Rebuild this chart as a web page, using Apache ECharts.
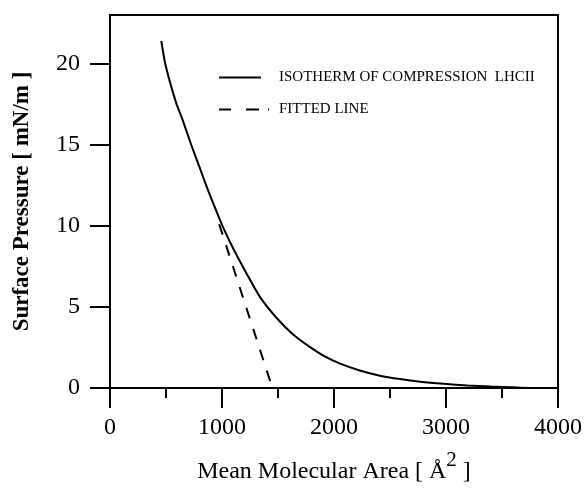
<!DOCTYPE html>
<html><head><meta charset="utf-8">
<script src="https://cdn.jsdelivr.net/npm/echarts@6/dist/echarts.min.js"></script>
<style>html,body{margin:0;padding:0;background:#fff}#c{width:587px;height:489px}</style>
</head><body><div id="c"></div>
<script>
var isothermArea = [458, 490, 530, 590, 650, 725, 800, 875, 950, 1010, 1100, 1220, 1340, 1490, 1635, 1780, 1905, 2055, 2230, 2410, 2590, 2770, 2980, 3190, 3400, 3600, 3740];
var isothermPressure = [21.4, 20.1, 19.0, 17.6, 16.5, 15.0, 13.6, 12.2, 10.9, 9.9, 8.6, 7.05, 5.6, 4.3, 3.3, 2.55, 2.0, 1.5, 1.08, 0.76, 0.55, 0.39, 0.26, 0.16, 0.09, 0.04, 0.0];
var fitArea = [975, 1450];
var fitPressure = [10.1, 0];
var xTicks = [0, 1000, 2000, 3000, 4000];
var yTicks = [0, 5, 10, 15, 20];
var seriesNames = ['ISOTHERM OF COMPRESSION  LHCII', 'FITTED LINE'];

var serif = 'Liberation Serif';
var chart = echarts.init(document.getElementById('c'), null, {renderer: 'canvas'});
var isoData = isothermArea.map(function (x, i) { return [x, isothermPressure[i]]; });
var fitData = fitArea.map(function (x, i) {
  var d = {value: [x, fitPressure[i]]};
  if (i === fitArea.length - 1) {
    d.label = {show: true, position: 'right', distance: 4, offset: [0, -15],
      formatter: function (p) { return String(p.value[0]); },
      fontFamily: serif, fontSize: 16, color: '#000'};
  }
  return d;
});

chart.setOption({
  animation: false,
  grid: {left: 110, right: 29, top: 15, bottom: 100, show: true, borderColor: '#000', borderWidth: 2},
  legend: {
    orient: 'vertical', left: 213, top: 65, itemWidth: 50, itemHeight: 14, itemGap: 17,
    textStyle: {fontFamily: serif, fontSize: 15, color: '#000', padding: [0, 0, 0, 5]},
    data: [
      {name: seriesNames[0], itemStyle: {opacity: 0}, lineStyle: {type: [42, 200], width: 2, color: '#000'}},
      {name: seriesNames[1], itemStyle: {opacity: 0}, lineStyle: {type: [12, 15, 13, 9, 2, 100], width: 2, color: '#000'}}
    ]
  },
  xAxis: {
    type: 'value', min: 0, max: 4000, interval: 1000,
    name: '{m|Mean Molecular Area [ Å}{s|2}{m| ]}', nameLocation: 'middle', nameGap: 62,
    nameTextStyle: {rich: {
      m: {fontFamily: serif, fontSize: 24, color: '#000', lineHeight: 34, verticalAlign: 'bottom'},
      s: {fontFamily: serif, fontSize: 21, color: '#000', lineHeight: 20, verticalAlign: 'top'}
    }},
    axisLine: {lineStyle: {color: '#000', width: 2}},
    axisTick: {show: true, length: 20, lineStyle: {color: '#000', width: 2}, customValues: xTicks},
    minorTick: {show: true, splitNumber: 2, length: 10, lineStyle: {color: '#000', width: 2}},
    axisLabel: {fontFamily: serif, fontSize: 24, color: '#000', margin: 28, customValues: xTicks,
      formatter: function (v) { return String(v); }},
    splitLine: {show: false}, minorSplitLine: {show: false}
  },
  yAxis: {
    type: 'value', min: 0, max: 23,
    name: 'Surface Pressure [ mN/m ]', nameLocation: 'middle', nameGap: 76,
    nameTextStyle: {fontFamily: serif, fontSize: 23, fontWeight: 'bold', color: '#000'},
    axisLine: {lineStyle: {color: '#000', width: 2}},
    axisTick: {show: true, length: 20, lineStyle: {color: '#000', width: 2}, customValues: yTicks},
    axisLabel: {fontFamily: serif, fontSize: 24, color: '#000', margin: 30, customValues: yTicks,
      formatter: function (v) { return String(v); }},
    splitLine: {show: false}
  },
  series: [
    {name: seriesNames[0], type: 'line', data: isoData, symbol: 'none', smooth: 0.25,
     lineStyle: {color: '#000', width: 2}, itemStyle: {color: '#000'}},
    {name: seriesNames[1], type: 'line', data: fitData, symbol: 'none',
     lineStyle: {color: '#000', width: 2, type: [11, 11]}, itemStyle: {color: '#000'}}
  ]
});
</script></body></html>
